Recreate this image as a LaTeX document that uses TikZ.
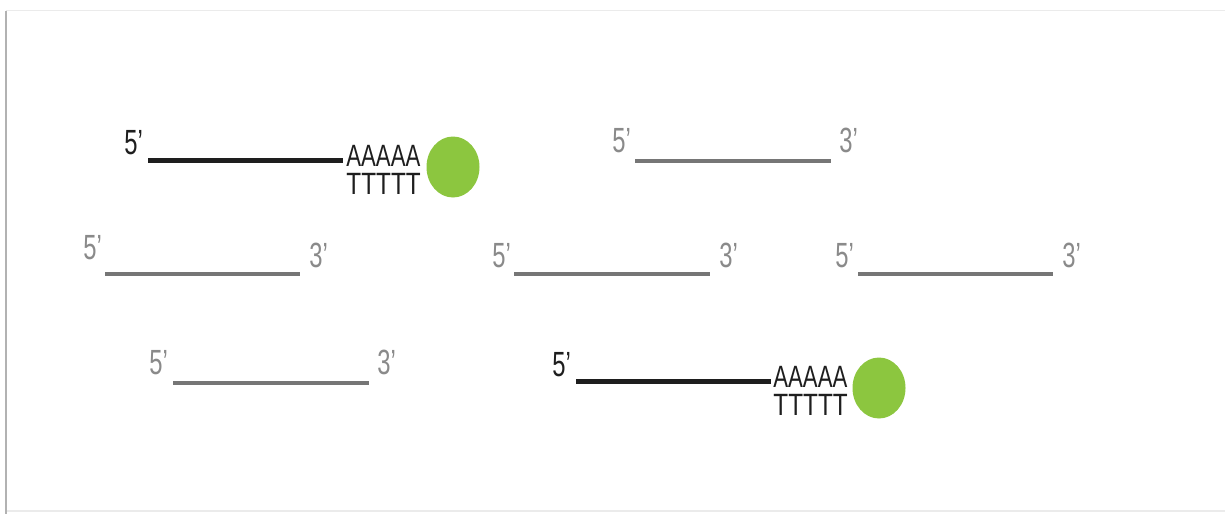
\documentclass[tikz,border=0pt]{standalone}
\usepackage{fontspec}
\setmainfont{Liberation Sans}[FakeStretch=0.68]
\usetikzlibrary{shapes.geometric}
\definecolor{endgray}{HTML}{8A8A8A}
\definecolor{linegray}{HTML}{767676}
\definecolor{inkblack}{HTML}{1E1E1E}
\definecolor{beadgreen}{HTML}{8CC63F}
\tikzset{
  endlabel/.style={anchor=south west, inner sep=0pt, font=\fontsize{17.5}{18}\selectfont},
  grayend/.style={endlabel, text=endgray},
  blackend/.style={endlabel, text=inkblack},
  graystrand/.style={line width=2pt, draw=linegray},
  blackstrand/.style={line width=2.5pt, draw=inkblack},
  polyA/.style={anchor=south west, inner sep=0pt, text=inkblack,
                font=\fontsize{15.4}{16}\selectfont\addfontfeature{FakeStretch=0.72}},
  polyT/.style={anchor=south west, inner sep=0pt, text=inkblack,
                font=\fontsize{15.4}{16}\selectfont\addfontfeature{FakeStretch=0.79}},
  bead/.style={ellipse, fill=beadgreen, inner sep=0pt,
               minimum width=26.5pt, minimum height=30.5pt},
  frameline/.style={draw=black!30, line width=1pt},
  faintline/.style={draw=black!8, line width=0.8pt}
}
\begin{document}
\begin{tikzpicture}[x=0.5pt, y=-0.5pt]
\useasboundingbox (0,0) rectangle (1225,514);

% page frame
\coordinate (ftl) at (6,10.5);
\coordinate (ftr) at (1225,10.5);
\coordinate (fbl) at (6,514);
\coordinate (fbb) at (6,511);
\coordinate (fbr) at (1225,511);
\draw[faintline] (ftl) -- (ftr);
\draw[faintline] (fbb) -- (fbr);
\draw[frameline] (ftl) -- (fbl);

% captured mRNA, top row
\node[blackend] (m1five) at (124,155) {5’};
\coordinate (m1a) at (148,160);
\coordinate (m1b) at (343,160);
\draw[blackstrand] (m1a) -- (m1b);
\node[polyA] (m1A) at (346,167) {AAAAA};
\node[polyT] (m1T) at (346,195) {TTTTT};
\node[bead] (m1bead) at (453,167) {};

% free strand, top row
\node[grayend] (g1five) at (612,153) {5’};
\coordinate (g1a) at (635,161);
\coordinate (g1b) at (831,161);
\draw[graystrand] (g1a) -- (g1b);
\node[grayend] (g1three) at (839,153) {3’};

% free strands, middle row
\node[grayend] (g2five) at (83,260) {5’};
\coordinate (g2a) at (105,274);
\coordinate (g2b) at (300,274);
\draw[graystrand] (g2a) -- (g2b);
\node[grayend] (g2three) at (309,268) {3’};

\node[grayend] (g3five) at (492,268) {5’};
\coordinate (g3a) at (514,274);
\coordinate (g3b) at (710,274);
\draw[graystrand] (g3a) -- (g3b);
\node[grayend] (g3three) at (719,268) {3’};

\node[grayend] (g4five) at (835,268) {5’};
\coordinate (g4a) at (858,274);
\coordinate (g4b) at (1053,274);
\draw[graystrand] (g4a) -- (g4b);
\node[grayend] (g4three) at (1062,268) {3’};

% bottom row
\node[grayend] (g5five) at (149,375) {5’};
\coordinate (g5a) at (173,383);
\coordinate (g5b) at (369,383);
\draw[graystrand] (g5a) -- (g5b);
\node[grayend] (g5three) at (377,375) {3’};

\node[blackend] (m2five) at (552,377) {5’};
\coordinate (m2a) at (576,381);
\coordinate (m2b) at (771,381);
\draw[blackstrand] (m2a) -- (m2b);
\node[polyA] (m2A) at (773,388) {AAAAA};
\node[polyT] (m2T) at (773,416) {TTTTT};
\node[bead] (m2bead) at (879,388) {};
\end{tikzpicture}
\end{document}
